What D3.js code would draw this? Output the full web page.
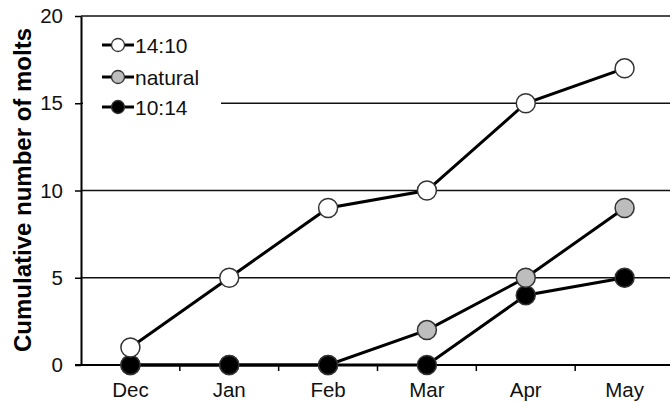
<!DOCTYPE html>
<html>
<head>
<meta charset="utf-8">
<script src="https://cdn.jsdelivr.net/npm/d3@7"></script>
<style>
html,body{margin:0;padding:0;background:#fff;}
svg{display:block;font-family:"Liberation Sans",Arial,sans-serif;}
</style>
</head>
<body>
<svg id="c" width="670" height="402"></svg>
<script>
const months = ["Dec","Jan","Feb","Mar","Apr","May"];
const series14_10 = [1,5,9,10,15,17];
const seriesNatural = [0,0,0,2,5,9];
const series10_14 = [0,0,0,0,4,5];
const yTicks = [0,5,10,15,20];
const seriesNames = ["14:10","natural","10:14"];
const seriesFills = ["#ffffff","#bdbdbd","#000000"];

const allSeries = [
  {name: seriesNames[0], values: series14_10, fill: seriesFills[0], prio: 0},
  {name: seriesNames[1], values: seriesNatural, fill: seriesFills[1], prio: 1},
  {name: seriesNames[2], values: series10_14, fill: seriesFills[2], prio: 2}
];

const svg = d3.select("#c");
const x = d3.scaleBand().domain(months).range([81, 674]).padding(0);
const y = d3.scaleLinear().domain([0,20]).range([365,16]);
const xLeft = 81, xRight = 670;

// gridlines
svg.append("g").selectAll("line").data(yTicks.filter(d=>d>0)).join("line")
  .attr("x1", xLeft).attr("x2", xRight)
  .attr("y1", d=>y(d)).attr("y2", d=>y(d))
  .attr("stroke","#111").attr("stroke-width",1.5);

// y axis
const yAxis = d3.axisLeft(y).tickValues(yTicks).tickSize(6).tickPadding(12).tickSizeOuter(0);
const gy = svg.append("g").attr("transform",`translate(${xLeft},0)`).call(yAxis);
gy.select(".domain").attr("stroke","#000").attr("stroke-width",2);
gy.selectAll(".tick line").attr("stroke","#000").attr("stroke-width",1.5);
gy.selectAll(".tick text").attr("font-size",20.5).attr("fill","#111")
  .attr("font-family","Liberation Sans, Arial, sans-serif");

// x axis
svg.append("line").attr("x1",xLeft-6).attr("x2",xRight).attr("y1",y(0)).attr("y2",y(0))
  .attr("stroke","#000").attr("stroke-width",2);
svg.append("g").selectAll("line").data(months.slice(1)).join("line")
  .attr("x1",d=>x(d)).attr("x2",d=>x(d)).attr("y1",y(0)).attr("y2",y(0)+6)
  .attr("stroke","#000").attr("stroke-width",1.5);
svg.append("g").selectAll("text").data(months).join("text")
  .attr("x",d=>x(d)+x.bandwidth()/2).attr("y",397)
  .attr("text-anchor","middle").attr("font-size",20.5).attr("fill","#111").text(d=>d);

// y title
svg.append("text").attr("transform","translate(31,190) rotate(-90)")
  .attr("text-anchor","middle").attr("font-size",24).attr("font-weight","bold")
  .attr("fill","#000").text("Cumulative number of molts");

// lines
const line = d3.line().x((d,i)=>x(months[i])+x.bandwidth()/2).y(d=>y(d));
svg.append("g").selectAll("path").data(allSeries).join("path")
  .attr("d",s=>line(s.values)).attr("fill","none")
  .attr("stroke","#000").attr("stroke-width",3);

// markers: sorted by value, ties -> later series on top
const pts = [];
allSeries.forEach(s=>s.values.forEach((v,i)=>pts.push({v,i,fill:s.fill,prio:s.prio})));
pts.sort((a,b)=> a.v-b.v || a.prio-b.prio);
svg.append("g").selectAll("circle").data(pts).join("circle")
  .attr("cx",d=>x(months[d.i])+x.bandwidth()/2).attr("cy",d=>y(d.v)).attr("r",9.5)
  .attr("fill",d=>d.fill).attr("stroke","#333").attr("stroke-width",1.5);

// legend
const leg = svg.append("g");
leg.append("rect").attr("x",xLeft+2).attr("y",28).attr("width",138).attr("height",92).attr("fill","#fff");
const rows = [45,77,107];
allSeries.forEach((s,k)=>{
  const g = leg.append("g").attr("transform",`translate(0,${rows[k]})`);
  g.append("line").attr("x1",102).attr("x2",134).attr("y1",0).attr("y2",0)
    .attr("stroke","#000").attr("stroke-width",3);
  g.append("circle").attr("cx",118).attr("cy",0).attr("r",6.5)
    .attr("fill",s.fill).attr("stroke","#333").attr("stroke-width",1.3);
  g.append("text").attr("x",135).attr("y",7.5).attr("font-size",21).attr("fill","#111").text(s.name);
});
</script>
</body>
</html>
